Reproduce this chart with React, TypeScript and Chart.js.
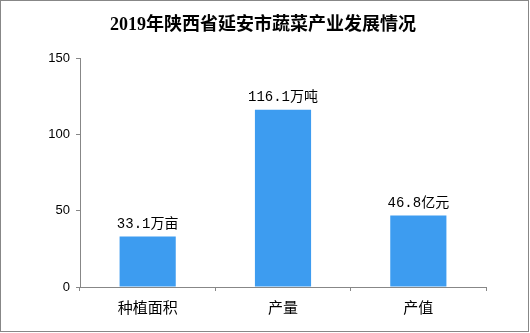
import React, { useEffect, useRef } from "react";
import { Chart, registerables } from "chart.js";

Chart.register(...registerables);

const title = "2019年陕西省延安市蔬菜产业发展情况";
const categories = ["种植面积", "产量", "产值"];
const values = [33.1, 116.1, 46.8];
const valueLabels = ["33.1万亩", "116.1万吨", "46.8亿元"];
const yTicks = [0, 50, 100, 150];

const BAR = "#3d9cf0";
const AXIS = "#878787";

export default function App() {
  const ref = useRef<HTMLCanvasElement | null>(null);
  useEffect(() => {
    document.body.style.margin = "0";
    const ctx = ref.current!.getContext("2d")!;
    const chart = new Chart(ctx, {
      type: "bar",
      data: {
        labels: categories,
        datasets: [
          {
            data: values,
            backgroundColor: BAR,
            borderWidth: 0,
            categoryPercentage: 1,
            barPercentage: 0.415,
          },
        ],
      },
      options: {
        animation: false,
        responsive: false,
        devicePixelRatio: 1,
        layout: { padding: { left: 0, right: 44, top: 58, bottom: 0 } },
        plugins: {
          legend: { display: false },
          tooltip: { enabled: false },
          title: { display: false },
        },
        scales: {
          x: {
            grid: {
              display: true,
              drawOnChartArea: false,
              drawTicks: true,
              tickLength: 4,
              color: AXIS,
              offset: true,
            },
            border: { display: true, color: AXIS, width: 1 },
            ticks: {
              color: "#000",
              padding: 7,
              font: { family: "'Noto Sans CJK SC', sans-serif", size: 15 },
            },
            afterFit: (s: any) => {
              s.height = 46;
            },
          },
          y: {
            min: 0,
            max: 150,
            afterBuildTicks: (s: any) => {
              s.ticks = yTicks.map((v) => ({ value: v }));
            },
            grid: {
              display: true,
              drawOnChartArea: false,
              drawTicks: true,
              tickLength: 4,
              color: AXIS,
            },
            border: { display: true, color: AXIS, width: 1 },
            ticks: {
              color: "#000",
              padding: 6,
              font: { family: "'Liberation Sans', Arial, sans-serif", size: 13 },
            },
            afterFit: (s: any) => {
              s.width = 80;
            },
          },
        },
      },
      plugins: [
        {
          id: "extras",
          afterDatasetsDraw(c: any) {
            const g = c.ctx;
            const meta = c.getDatasetMeta(0);
            g.save();
            g.fillStyle = "#000";
            g.font = "14px 'Liberation Mono', 'Noto Sans CJK SC', monospace";
            g.textAlign = "center";
            g.textBaseline = "bottom";
            meta.data.forEach((bar: any, i: number) => {
              g.fillText(valueLabels[i], bar.x, bar.y - 5);
            });
            g.restore();
          },
          afterDraw(c: any) {
            const g = c.ctx;
            g.save();
            g.fillStyle = "#000";
            g.font = "bold 18px 'Liberation Serif', 'Noto Sans CJK SC', serif";
            g.textAlign = "center";
            g.textBaseline = "middle";
            g.fillText(title, 263, 25);
            g.strokeStyle = AXIS;
            g.lineWidth = 1;
            g.strokeRect(0.5, 0.5, c.width - 2, c.height - 2);
            g.restore();
          },
        },
      ],
    });
    return () => chart.destroy();
  }, []);
  return (
    <div style={{ position: "absolute", left: 0, top: 0, width: 530, height: 333, background: "#fff" }}>
      <canvas ref={ref} width={530} height={333} style={{ width: 530, height: 333 }} />
    </div>
  );
}
